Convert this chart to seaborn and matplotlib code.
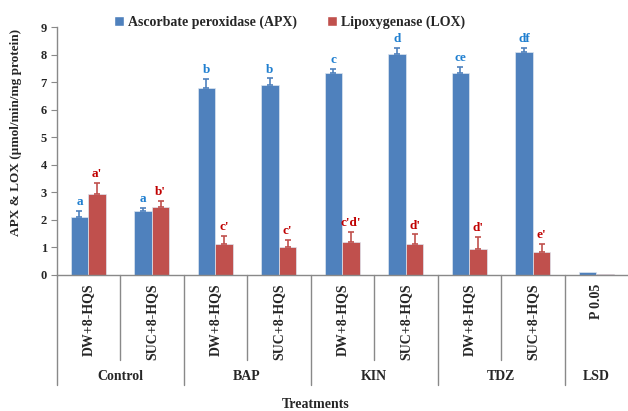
import numpy as np
import pandas as pd
import seaborn as sns
import matplotlib.pyplot as plt
from matplotlib.patches import Patch

# data
groups = ['Control', 'Control', 'BAP', 'BAP', 'KIN', 'KIN', 'TDZ', 'TDZ', 'LSD']
solutions = ['DW+8-HQS', 'SUC+8-HQS', 'DW+8-HQS', 'SUC+8-HQS', 'DW+8-HQS',
             'SUC+8-HQS', 'DW+8-HQS', 'SUC+8-HQS', 'P 0.05']
apx = [2.12, 2.33, 6.79, 6.91, 7.33, 8.02, 7.35, 8.08, 0.10]
apx_err = [0.20, 0.10, 0.33, 0.23, 0.16, 0.22, 0.20, 0.16, 0.0]
lox = [2.93, 2.48, 1.12, 1.03, 1.19, 1.14, 0.95, 0.84, 0.03]
lox_err = [0.40, 0.22, 0.30, 0.24, 0.37, 0.33, 0.42, 0.28, 0.0]
apx_letters = ['a', 'a', 'b', 'b', 'c', 'd', 'ce', 'df', '']
lox_letters = ["a'", "b'", "c'", "c'", "c'd'", "d'", "d'", "e'", '']
series = ['Ascorbate peroxidase (APX)', 'Lipoxygenase (LOX)']

blue, red = '#4F81BD', '#C0504D'
blue_txt, red_txt = '#1F7FD0', '#C00000'

sns.set_style('white')
plt.rcParams['font.family'] = ['Liberation Serif', 'DejaVu Serif']
plt.rcParams['font.weight'] = 'bold'

cats = [f'{g}|{s}|{i}' for i, (g, s) in enumerate(zip(groups, solutions))]
df = pd.DataFrame({
    'cat': cats * 2,
    'value': apx + lox,
    'enzyme': [series[0]] * len(cats) + [series[1]] * len(cats),
})

fig = plt.figure(figsize=(6.28, 4.11), dpi=100)
ax = fig.add_axes([0.090, 0.331, 0.910, 0.603])

sns.barplot(data=df, x='cat', y='value', hue='enzyme', order=cats,
            hue_order=series, palette=[blue, red], saturation=1, width=0.555, gap=0,
            errorbar=None, edgecolor='#DDE6F0', linewidth=0.5, legend=False, ax=ax)

# one-sided error bars + significance letters
for cont, errs, letters, col, tcol in zip(ax.containers, [apx_err, lox_err],
                                          [apx_letters, lox_letters],
                                          [blue, red], [blue_txt, red_txt]):
    for bar, e, lab in zip(cont, errs, letters):
        xc = bar.get_x() + bar.get_width() / 2
        h = bar.get_height()
        if e > 0:
            ax.errorbar(xc, h, yerr=[[0], [e]], fmt='none', ecolor=col,
                        elinewidth=1.2, capsize=2.2, capthick=1.2, zorder=3)
        if lab:
            ax.annotate(lab, (xc, h + e), xytext=(0, 2), textcoords='offset points',
                        ha='center', va='bottom', color=tcol, fontsize=9.5,
                        fontweight='bold')

ax.set_xlim(-0.5, len(cats) - 0.5)
ax.set_ylim(0, 9)
ax.set_yticks(range(10))
ax.set_xticks(range(len(cats)))
ax.tick_params(axis='x', length=0, labelbottom=False)
ax.tick_params(axis='y', direction='out', length=4, color='#898989',
               labelsize=9, pad=3, left=True)
for lbl in ax.get_yticklabels():
    lbl.set_fontweight('bold')
for s in ['top', 'right']:
    ax.spines[s].set_visible(False)
for s in ['left', 'bottom']:
    ax.spines[s].set_color('#898989')
    ax.spines[s].set_linewidth(1.0)

ax.set_xlabel('')
ax.set_ylabel('APX & LOX (µmol/min/mg protein)', fontsize=9.5, fontweight='bold')
ax.yaxis.set_label_coords(-0.061, 0.577)

# multi-level category axis
trans = ax.get_xaxis_transform()
for i, s in enumerate(solutions):
    ax.annotate(s, (i, 0), xycoords=trans, xytext=(0, -6), textcoords='offset points',
                rotation=90, ha='center', va='top', fontsize=10, fontweight='bold')

group_names = list(dict.fromkeys(groups))
for g in group_names:
    idx = [i for i, gg in enumerate(groups) if gg == g]
    ax.annotate(g, (np.mean(idx), 0), xycoords=trans, xytext=(0, -73),
                textcoords='offset points', ha='center', va='center',
                fontsize=10, fontweight='bold')
    left = idx[0] - 0.5
    ax.plot([left, left], [0, -0.444], transform=trans, color='#898989',
            lw=1.0, clip_on=False)
    for k in idx[1:]:
        ax.plot([k - 0.5, k - 0.5], [0, -0.343], transform=trans, color='#898989',
                lw=1.0, clip_on=False)

fig.text(0.503, 0.017, 'Treatments', ha='center', va='center', fontsize=10,
         fontweight='bold')

handles = [Patch(facecolor=blue), Patch(facecolor=red)]
fig.legend(handles, series, loc='center', bbox_to_anchor=(0.461, 0.946), ncol=2,
           frameon=False, handlelength=0.7, handleheight=0.7, handletextpad=0.3,
           columnspacing=2.2, prop={'size': 10, 'weight': 'bold'})

fig.savefig('out.png', dpi=100)
